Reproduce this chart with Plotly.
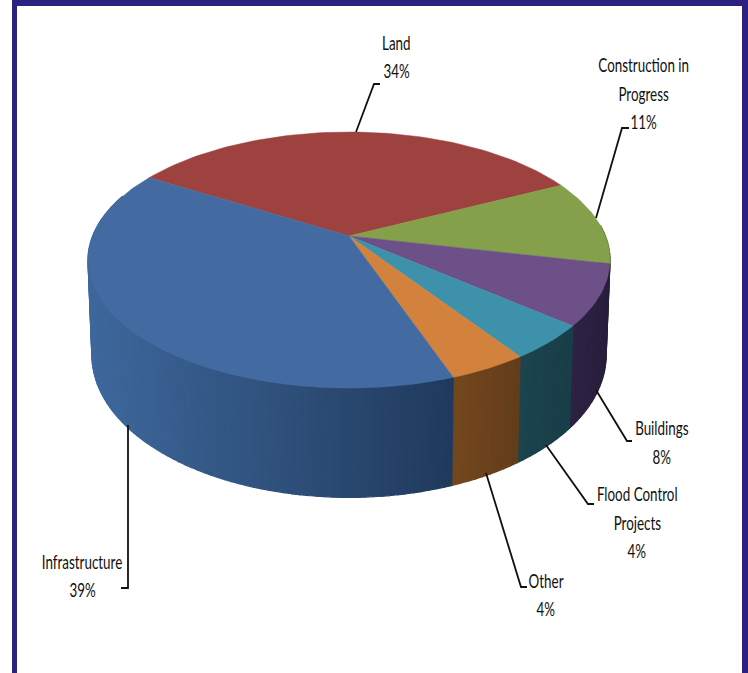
import numpy as np
import plotly.graph_objects as go

# ---- data ----
categories = ["Land", "Construction in Progress", "Buildings",
              "Flood Control Projects", "Other", "Infrastructure"]
values = [34.0, 10.8, 7.6, 4.4, 4.1, 39.1]
label_lines = [["Land", "34%"], ["Construction in", "Progress", "11%"],
               ["Buildings", "8%"], ["Flood Control", "Projects", "4%"],
               ["Other", "4%"], ["Infrastructure", "39%"]]

# ---- styling ----
top_colors = ["#9e4240", "#84a04a", "#6d5088", "#3e91aa", "#d2823c", "#436ba2"]
side_from = {"Land": (90, 40, 38), "Construction in Progress": (80, 100, 45),
             "Buildings": (46, 34, 68), "Flood Control Projects": (28, 68, 78),
             "Other": (116, 72, 30), "Infrastructure": (62, 104, 156)}
side_to = {"Land": (90, 40, 38), "Construction in Progress": (80, 100, 45),
           "Buildings": (40, 30, 60), "Flood Control Projects": (24, 62, 72),
           "Other": (98, 60, 26), "Infrastructure": (32, 58, 92)}
label_xy = [(396, [42, 70]), (643, [64, 93, 121]), (662, [427, 456]),
            (637, [493, 522, 550]), (546, [580, 608]), (82, [561, 589])]
leaders = [[(356, 132), (374, 84), (380, 84)], [(596, 218), (622, 128), (629, 128)],
           [(596, 390), (627, 441), (632, 441)], [(546, 445), (588, 504), (594, 504)],
           [(486, 473), (521, 587), (527, 587)], [(128, 425), (128, 588), (121, 588)]]

# perspective projection of the disc
CX, CY, R, H, K = 349.0, 236.0, 256.4, 123.5, 0.1875
START = -58.8


def top(theta):
    a = np.radians(theta)
    u, v = np.sin(a), np.cos(a)
    w = 1 / (1 + K * v)
    return CX + R * u * w, CY - H * v * w


def bottom(theta):
    x, y = top(theta)
    return CX + (x - CX) * 0.985, y + 92.5 + 0.111 * (y - CY)


fig = go.Figure()
edges = START + np.concatenate([[0], np.cumsum(values)]) * 3.6
STEP = 1.5

# side wall (drawn first, front wall only)
for cat, a0, a1 in zip(categories, edges[:-1], edges[1:]):
    lo, hi = max(a0, 85.0), min(a1, 290.0)
    if hi <= lo:
        continue
    n = max(2, int((hi - lo) / STEP) + 1)
    th = np.linspace(lo, hi, n)
    c0, c1 = np.array(side_from[cat], float), np.array(side_to[cat], float)
    xs_all = top(th)[0]
    xl, xr = xs_all.min(), xs_all.max()
    for t0, t1 in zip(th[:-1], th[1:]):
        seg = np.linspace(t0, t1, 3)
        tx, ty = top(seg)
        bx, by = bottom(seg)
        f = (tx.mean() - xl) / max(xr - xl, 1)
        col = c0 + (c1 - c0) * f
        c = f"rgb({col[0]:.0f},{col[1]:.0f},{col[2]:.0f})"
        fig.add_trace(go.Scatter(
            x=np.r_[tx, bx[::-1], tx[0]], y=np.r_[ty, by[::-1], ty[0]],
            mode="lines", fill="toself", fillcolor=c,
            line=dict(color=c, width=1.2), hoverinfo="skip", showlegend=False))

# top face
for cat, col, a0, a1 in zip(categories, top_colors, edges[:-1], edges[1:]):
    th = np.linspace(a0, a1, int((a1 - a0) / STEP) + 2)
    tx, ty = top(th)
    fig.add_trace(go.Scatter(
        x=np.r_[CX, tx, CX], y=np.r_[CY, ty, CY], mode="lines", fill="toself",
        fillcolor=col, line=dict(color=col, width=0.5), name=cat, showlegend=False))

# leader lines
for pts in leaders:
    fig.add_trace(go.Scatter(x=[p[0] for p in pts], y=[p[1] for p in pts], mode="lines",
                             line=dict(color="#111111", width=1.8), hoverinfo="skip",
                             showlegend=False))

# labels
for lines, (lx, ys) in zip(label_lines, label_xy):
    for line, ly in zip(lines, ys):
        fig.add_annotation(x=lx, y=ly, text=line, showarrow=False, xanchor="center",
                           yanchor="middle",
                           font=dict(family="Lato", size=20, color="#111111"))

# navy frame
frame = dict(type="rect", fillcolor="#2a2180", line_width=0, layer="below")
fig.add_shape(x0=12, x1=17, y0=0, y1=673, **frame)
fig.add_shape(x0=12, x1=748, y0=0, y1=6, **frame)
fig.add_shape(x0=742, x1=748, y0=0, y1=673, **frame)

fig.update_xaxes(range=[0, 748], visible=False, fixedrange=True)
fig.update_yaxes(range=[673, 0], visible=False, fixedrange=True)
fig.update_layout(width=748, height=673, margin=dict(l=0, r=0, t=0, b=0),
                  paper_bgcolor="white", plot_bgcolor="white", showlegend=False)

squeeze = """
document.body.style.margin = '0';
document.querySelectorAll('.annotation-text').forEach(function (t) {
  t.setAttribute('lengthAdjust', 'spacingAndGlyphs');
  t.setAttribute('textLength', t.getComputedTextLength() * 0.67);
});
"""
fig.write_html("out.html", config={"displayModeBar": False}, post_script=squeeze)
